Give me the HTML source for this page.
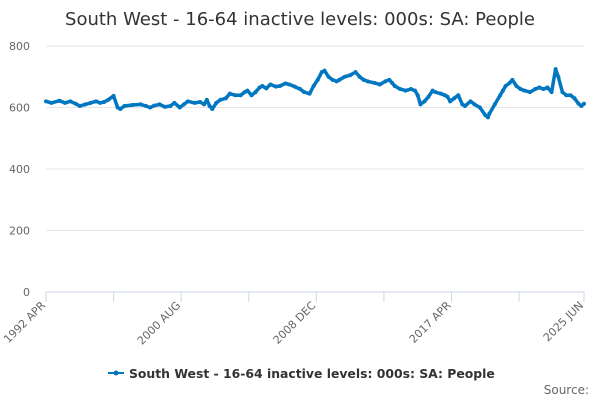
<!DOCTYPE html>
<html><head><meta charset="utf-8"><style>
body{margin:0;background:#fff;font-family:"DejaVu Sans",sans-serif}
svg text{font-family:"DejaVu Sans","Liberation Sans",sans-serif}
</style></head><body>
<svg id="c" width="600" height="400">
<text x="300" y="25" text-anchor="middle" font-size="18" fill="#333">South West - 16-64 inactive levels: 000s: SA: People</text>
<g id="grid"></g><g id="axes"></g><g id="series"></g>
<g>
<line x1="108" y1="373" x2="124" y2="373" stroke="#0077c0" stroke-width="2"/>
<circle cx="116" cy="373" r="2.5" fill="#0077c0"/>
<text x="129" y="378" font-size="12.4" font-weight="bold" fill="#333">South West - 16-64 inactive levels: 000s: SA: People</text>
</g>
<text x="589" y="394" text-anchor="end" font-size="12" fill="#666">Source:</text>
</svg>
<script>
const months=[0,4,10,14,18,22,25,29,33,37,40,43,46,50,53,55,58,64,70,74,77,80,84,88,92,95,99,102,105,110,114,117,119,121,123,126,129,133,136,140,144,147,149,152,155,158,160,163,166,170,173,177,180,184,188,191,195,198,201,204,206,209,212,215,217,221,225,229,232,235,238,243,247,251,254,256,258,262,266,270,273,275,277,280,283,286,288,292,295,297,299,302,305,308,310,314,317,321,325,327,328,332,336,338,340,343,345,348,351,354,358,362,365,368,371,374,377,379,382,385,388,391,394,396,398];
const values=[620,615,622,615,620,612,605,610,615,620,615,618,625,638,600,595,605,608,610,605,600,606,610,602,605,615,600,610,620,615,618,610,625,605,595,615,625,630,645,640,640,650,655,640,650,665,670,662,675,668,670,678,675,668,660,650,645,670,690,715,720,700,690,685,690,700,705,715,700,690,685,680,675,685,690,680,670,660,655,660,655,640,610,620,635,655,650,645,640,635,620,630,640,610,605,620,610,600,575,568,580,610,640,655,670,680,690,670,660,655,650,660,665,660,665,650,725,700,650,640,640,630,612,605,612];
const yTicks=[0,200,400,600,800];
const xTickMonths=[0,100,200,300,398];
const xTickLabels=["1992 APR","2000 AUG","2008 DEC","2017 APR","2025 JUN"];
const minorTicks=[50,150,250,350];
const NS="http://www.w3.org/2000/svg";
const x0=46,x1=584,y0=292,y1=46;
const xs=m=>x0+m/398*(x1-x0);
const ys=v=>y0-v/800*(y0-y1);
function mk(t,a,p){const e=document.createElementNS(NS,t);for(const k in a)e.setAttribute(k,a[k]);p.appendChild(e);return e;}
const grid=document.getElementById('grid'),axes=document.getElementById('axes'),ser=document.getElementById('series');
yTicks.forEach(v=>{
 const l=mk('line',{x1:x0,x2:x1,y1:ys(v),y2:ys(v),stroke:v?'#e6e6e6':'#ccd6eb'},grid);
 
 
 const t=mk('text',{x:x0-16,y:ys(v)+4,'text-anchor':'end','font-size':11,fill:'#666'},axes);
 t.textContent=v;
 
 
});
xTickMonths.concat(minorTicks).forEach(m=>{
 const l=mk('line',{x1:xs(m),x2:xs(m),y1:y0,y2:y0+10,stroke:'#ccd6eb'},axes);
 
 
});
xTickMonths.forEach((m,i)=>{
 const x=xs(m),y=y0+14;
 const t=mk('text',{x:x,y:y,'text-anchor':'end','font-size':11,fill:'#666',transform:`rotate(-45 ${x} ${y})`},axes);
 t.textContent=xTickLabels[i];
 
 
});
const pts=months.map((m,i)=>xs(m).toFixed(1)+','+ys(values[i]).toFixed(1)).join(' ');
const pl=mk('polyline',{points:pts,fill:'none',stroke:'#0077c0','stroke-width':3.5,'stroke-linejoin':'round'},ser);


months.forEach((m,i)=>{
 const c=mk('circle',{cx:xs(m),cy:ys(values[i]),r:2,fill:'#0077c0'},ser);
 
 
});
</script>
</body></html>
